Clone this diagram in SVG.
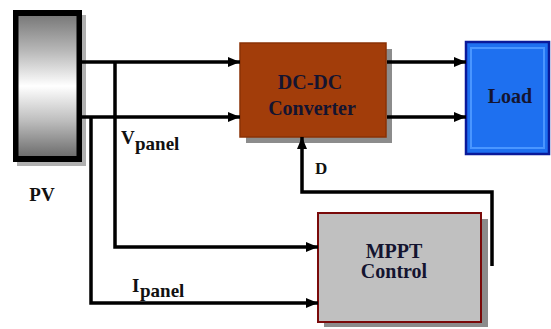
<svg xmlns="http://www.w3.org/2000/svg" width="551" height="329" viewBox="0 0 551 329">
<style>
.lbl{font-family:"Liberation Serif","DejaVu Serif","Times New Roman",serif;font-weight:bold;fill:#111}
.box{font-family:"Liberation Serif","DejaVu Serif","Times New Roman",serif;font-weight:bold;font-size:20px;fill:#141430;text-anchor:middle}
.wire{fill:none;stroke:#000;stroke-width:3.5}
.shadow{fill:#8c8c8c}
</style>
<defs>
<linearGradient id="pvg" x1="0" y1="0" x2="0" y2="1">
<stop offset="0" stop-color="#7a7a7a"/>
<stop offset="0.25" stop-color="#b8b8b8"/>
<stop offset="0.5" stop-color="#ffffff"/>
<stop offset="0.75" stop-color="#bdbdbd"/>
<stop offset="1" stop-color="#6e6e6e"/>
</linearGradient>
<marker id="ah" viewBox="0 0 12 10" refX="12" refY="5" markerWidth="12" markerHeight="10" markerUnits="userSpaceOnUse" orient="auto">
<path d="M0,0 L12,5 L0,10 Z" fill="#000"/>
</marker>
</defs>

<g id="pv">
<rect x="17" y="15" width="69" height="151" fill="#b0b0b0"/>
<rect x="13" y="10" width="69" height="152" fill="#000"/>
<rect x="18.5" y="16" width="58" height="140" fill="url(#pvg)"/>
<text class="lbl" x="42" y="201" font-size="19" text-anchor="middle">PV</text>
</g>

<g id="dcdc">
<rect class="shadow" x="246" y="49" width="146" height="94"/>
<rect x="240" y="43" width="146" height="94" fill="#a23d0a" stroke="#8a3206" stroke-width="1.5"/>
<text class="box" x="310" y="89">DC-DC</text>
<text class="box" x="312" y="115">Converter</text>
</g>

<g id="load">
<rect x="466" y="42" width="83" height="112" fill="#1e70f0" stroke="#0a1a9a" stroke-width="2.5"/>
<rect x="471" y="48" width="73" height="100" fill="none" stroke="#4a96ff" stroke-width="2"/>
<text class="box" x="510" y="103">Load</text>
</g>

<g id="mppt">
<rect class="shadow" x="324" y="219" width="164" height="108"/>
<rect x="318" y="213" width="163" height="109" fill="#c0c0c0" stroke="#7a0a0a" stroke-width="2"/>
<text class="box" x="394" y="258" fill="#111">MPPT</text>
<text class="box" x="394" y="278" fill="#111">Control</text>
</g>

<g id="connectors">
<path class="wire" d="M82,62 H240" marker-end="url(#ah)"/>
<path class="wire" d="M82,117 H240" marker-end="url(#ah)"/>
<path class="wire" d="M387,62 H466" marker-end="url(#ah)"/>
<path class="wire" d="M387,117 H466" marker-end="url(#ah)"/>
<path class="wire" d="M115,62 V247 H318" stroke-width="3" marker-end="url(#ah)"/>
<path class="wire" d="M91,117 V303 H318" stroke-width="3" marker-end="url(#ah)"/>
<path class="wire" d="M492,266 V192 H302 V137" stroke-width="4" marker-end="url(#ah)"/>
</g>

<g id="labels">
<text class="lbl" x="121" y="144" font-size="19">V</text>
<text class="lbl" x="135" y="150" font-size="19">panel</text>
<text class="lbl" x="315" y="174" font-size="17">D</text>
<text class="lbl" x="132" y="292" font-size="19">I</text>
<text class="lbl" x="140" y="297" font-size="19">panel</text>
</g>
</svg>
